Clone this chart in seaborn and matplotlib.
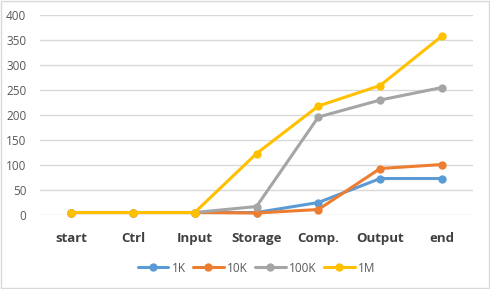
import numpy as np
import pandas as pd
import matplotlib
matplotlib.use("Agg")
import matplotlib.pyplot as plt
import seaborn as sns

# stages along the x axis
stages = ["start", "Ctrl", "Input", "Storage", "Comp.", "Output", "end"]
series = ["1K", "10K", "100K", "1M"]

# values
vals_1k = [5, 5, 5, 5, 25, 73, 73]
vals_10k = [5, 5, 5, 4, 11, 93, 101]
vals_100k = [5, 5, 5, 17, 196, 230, 255]
vals_1m = [5, 5, 5, 123, 218, 259, 358]

colors = ["#5B9BD5", "#ED7D31", "#A5A5A5", "#FFC000"]

df = pd.DataFrame({
    "stage": stages * 4,
    "size": np.repeat(series, len(stages)),
    "value": vals_1k + vals_10k + vals_100k + vals_1m,
})

sns.set_style("white")
plt.rcParams["font.family"] = ["Open Sans", "DejaVu Sans"]

fig = plt.figure(figsize=(4.9, 2.89), dpi=100)
ax = fig.add_axes([0.082, 0.256, 0.883, 0.692])

sns.lineplot(data=df, x="stage", y="value", hue="size", hue_order=series,
             palette=colors, marker="o", markersize=6, markeredgewidth=0,
             linewidth=2.2, sort=False, ax=ax, clip_on=False)

ax.set_ylim(0, 400)
ax.set_xlim(-0.5, 6.5)
ax.set_yticks(range(0, 401, 50))
ax.yaxis.grid(True, color="#D9D9D9", linewidth=1)
ax.set_axisbelow(True)
for s in ax.spines.values():
    s.set_visible(False)
ax.set_xlabel("")
ax.set_ylabel("")
ax.tick_params(axis="y", length=0, labelsize=8.5, labelcolor="#595959", pad=10)
ax.tick_params(axis="x", length=0, labelsize=9.5, labelcolor="#404040", pad=12)
for t in ax.get_xticklabels():
    t.set_fontweight("bold")

ax.legend(loc="center", bbox_to_anchor=(0.5, -0.265), ncol=4, frameon=False,
          fontsize=8.5, labelcolor="#595959", handlelength=2.6, columnspacing=0.6,
          handletextpad=0.3)

# light frame around the whole chart
fig.patches.append(plt.Rectangle((0.002, 0.003), 0.996, 0.994, transform=fig.transFigure,
                                 fill=False, edgecolor="#D9D9D9", linewidth=1))

fig.savefig("out.png", dpi=100)
